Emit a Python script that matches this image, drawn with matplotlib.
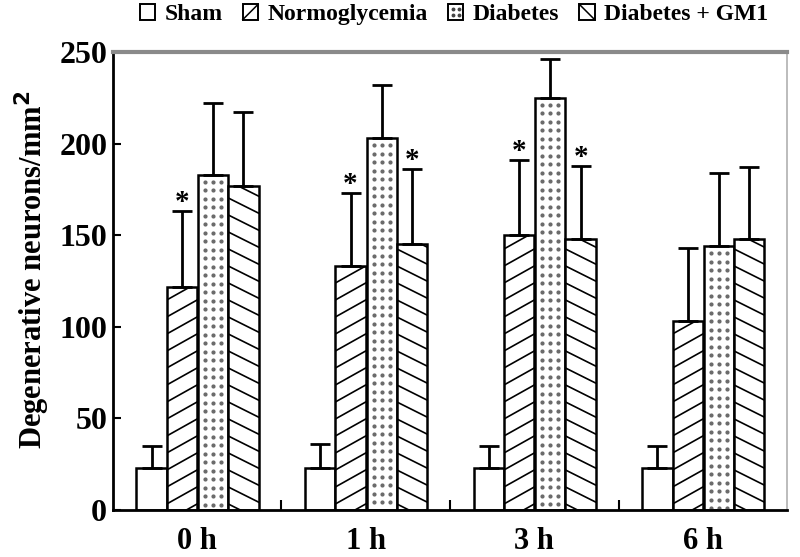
import matplotlib
matplotlib.use("Agg")
import matplotlib.pyplot as plt
import numpy as np
from matplotlib.patches import Rectangle
from matplotlib.lines import Line2D
from matplotlib.legend_handler import HandlerBase
from matplotlib.transforms import IdentityTransform

groups = ['0 h', '1 h', '3 h', '6 h']
series = ['Sham', 'Normoglycemia', 'Diabetes', 'Diabetes + GM1']
sham = [23, 23, 23, 23]
sham_sd = [12, 13, 12, 12]
normo = [122, 133, 150, 103]
normo_sd = [41, 40, 41, 40]
diab = [183, 203, 225, 144]
diab_sd = [39, 29, 21, 40]
gm1 = [177, 145, 148, 148]
gm1_sd = [40, 41, 40, 39]
# significance markers (True = asterisk above error bar)
normo_sig = [True, True, True, False]
gm1_sig = [False, True, True, False]

plt.rcParams['font.family'] = ['Liberation Serif', 'DejaVu Serif']
plt.rcParams['font.weight'] = 'bold'

DPI = 100
fig = plt.figure(figsize=(8.0, 5.57), dpi=DPI)
ax = fig.add_axes([0.141, 0.0844, 0.843, 0.8222])

x = np.arange(len(groups))
width = 0.18
offsets = [-0.27, -0.09, 0.095, 0.275]
styles = ['plain', 'ne', 'dots', 'se']
data = [(sham, sham_sd), (normo, normo_sd), (diab, diab_sd), (gm1, gm1_sd)]

ax.set_xlim(-0.5, 3.5)
ax.set_ylim(0, 250)


def decorate(rect, style):
    """Sparse hatching drawn in display space, clipped to the bar."""
    if style == 'plain':
        return
    bb = rect.get_window_extent()
    x0, x1, y0, y1 = bb.x0, bb.x1, bb.y0, bb.y1
    arts = []
    if style in ('ne', 'se'):
        slope = 0.56 if style == 'ne' else 0.5
        spacing = 17.0
        w = x1 - x0
        yb = y0 - slope * w - spacing + 6
        while yb < y1 + spacing:
            if style == 'ne':
                ys = [yb, yb + slope * w]
            else:
                ys = [yb + slope * w, yb]
            arts.append(Line2D([x0, x1], ys, transform=IdentityTransform(),
                               color='black', linewidth=1.2, zorder=2.5))
            yb += spacing
    elif style == 'dots':
        cx = 0.5 * (x0 + x1)
        cols = [cx - 8, cx, cx + 8]
        yy = y1 - 7
        px, py = [], []
        while yy > y0 + 1:
            for xc in cols:
                px.append(xc)
                py.append(yy)
            yy -= 8.5
        arts.append(Line2D(px, py, transform=IdentityTransform(),
                           linestyle='none', marker='o', markersize=2.0,
                           markerfacecolor='#6a6a6a', markeredgecolor='#6a6a6a',
                           zorder=2.5))
    for a in arts:
        ax.add_artist(a)
        a.set_clip_path(rect.get_path(), rect.get_transform())


bars_all = []
for i, (vals, sd) in enumerate(data):
    pos = x + offsets[i]
    bars = ax.bar(pos, vals, width, color='white', edgecolor='black',
                  linewidth=1.8, zorder=2)
    bars_all.append(bars)
    ax.errorbar(pos, vals, yerr=[np.zeros(len(vals)), sd], fmt='none',
                ecolor='black', elinewidth=2, capsize=7, capthick=2, zorder=3)

for sig, vals, sd, off in [(normo_sig, normo, normo_sd, offsets[1]),
                           (gm1_sig, gm1, gm1_sd, offsets[3])]:
    for j in range(len(groups)):
        if sig[j]:
            ax.text(x[j] + off, vals[j] + sd[j] + 0.5, '*', ha='center',
                    va='baseline', fontsize=21, fontweight='bold')

ax.set_yticks([0, 50, 100, 150, 200, 250])
ax.set_xticks(x)
ax.set_xticklabels(groups)
ax.set_xticks([0.5, 1.5, 2.5], minor=True)
ax.tick_params(axis='x', which='major', length=0, pad=12, labelsize=22)
ax.tick_params(axis='x', which='minor', direction='in', length=7, width=1.5)
ax.tick_params(axis='y', which='major', direction='in', length=6, width=1.5,
               labelsize=23, pad=4)
for lab in ax.get_xticklabels() + ax.get_yticklabels():
    lab.set_fontweight('bold')

ax.set_ylabel('Degenerative neurons/mm$^\\mathbf{2}$', fontsize=22,
              fontweight='bold')
ax.yaxis.set_label_coords(-0.09, 0.525)

ax.spines['left'].set_linewidth(2)
ax.spines['bottom'].set_linewidth(2)
ax.spines['top'].set_color('#8a8a8a')
ax.spines['top'].set_linewidth(3)
ax.spines['right'].set_color('#b0b0b0')
ax.spines['right'].set_linewidth(1.2)

# draw once so bar extents in display space are known
fig.canvas.draw()
for bars, st in zip(bars_all, styles):
    for rect in bars:
        decorate(rect, st)


class BoxHandler(HandlerBase):
    def __init__(self, style):
        super().__init__()
        self.style = style

    def create_artists(self, legend, orig_handle, xdescent, ydescent, width,
                       height, fontsize, trans):
        s = min(width, height)
        bx, by = -xdescent + (width - s) / 2, -ydescent
        arts = [Rectangle((bx, by), s, s, facecolor='white', edgecolor='black',
                          linewidth=1.4, transform=trans)]
        if self.style == 'ne':
            arts.append(Line2D([bx, bx + s], [by, by + s], color='black',
                               linewidth=1.1, transform=trans))
        elif self.style == 'se':
            arts.append(Line2D([bx, bx + s], [by + s, by], color='black',
                               linewidth=1.1, transform=trans))
        elif self.style == 'dots':
            arts.append(Line2D([bx + s * 0.3, bx + s * 0.7, bx + s * 0.3, bx + s * 0.7],
                               [by + s * 0.3, by + s * 0.3, by + s * 0.7, by + s * 0.7],
                               linestyle='none', marker='o', markersize=1.8,
                               color='#444444', transform=trans))
        return arts


handles = [Rectangle((0, 0), 1, 1) for _ in series]
hmap = {h: BoxHandler(st) for h, st in zip(handles, styles)}
fig.legend(handles, series, handler_map=hmap, loc='center',
           bbox_to_anchor=(0.5675, 0.974), ncol=4, frameon=False,
           handlelength=0.65, handleheight=0.65, handletextpad=0.4,
           columnspacing=0.85, borderpad=0.1,
           prop={'weight': 'bold', 'size': 17})

fig.savefig('out.png', dpi=DPI)
